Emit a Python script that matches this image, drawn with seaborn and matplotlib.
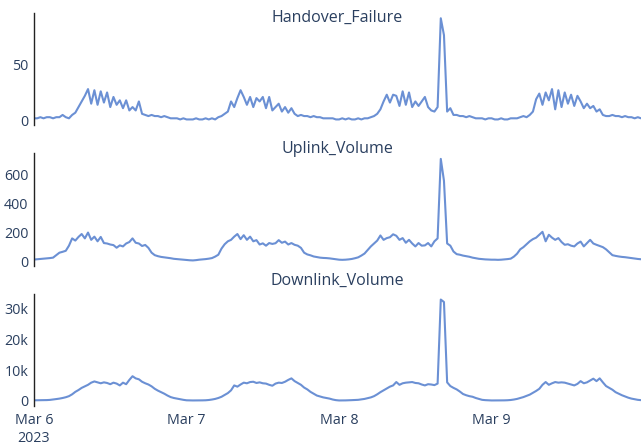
import matplotlib
matplotlib.use("Agg")
import matplotlib.pyplot as plt
import matplotlib.dates as mdates
from matplotlib.ticker import MultipleLocator, FuncFormatter
import seaborn as sns
import pandas as pd

# ---- data (30-minute samples, Mar 6 00:00 .. Mar 9 23:30) ----
start_time = "2023-03-06 00:00"
freq = "30min"

handover_failure = [
    # Mar 6
    2, 2, 3, 2, 3, 3, 2, 3, 3, 5, 3, 2, 5, 7, 12, 17, 22, 28, 15, 27, 14, 26, 16, 25,
    12, 21, 14, 18, 11, 18, 9, 12, 9, 17, 6, 5, 4, 5, 4, 4, 3, 4, 3, 2, 2, 2, 1, 2,
    # Mar 7
    1, 1, 1, 2, 1, 1, 2, 1, 2, 1, 3, 4, 6, 8, 17, 12, 20, 27, 21, 14, 21, 12, 20, 17,
    21, 11, 21, 9, 12, 15, 8, 12, 7, 11, 6, 4, 5, 4, 4, 3, 4, 3, 3, 2, 2, 2, 2, 1,
    # Mar 8
    1, 2, 1, 2, 1, 1, 2, 1, 2, 2, 3, 4, 6, 10, 17, 23, 16, 23, 22, 13, 26, 14, 25, 12,
    17, 13, 17, 21, 12, 9, 8, 12, 91, 76, 8, 11, 5, 5, 4, 4, 3, 4, 3, 2, 2, 2, 1, 2,
    # Mar 9
    2, 1, 1, 2, 1, 1, 2, 2, 2, 3, 4, 3, 5, 8, 19, 24, 14, 25, 18, 28, 10, 27, 12, 25,
    15, 23, 13, 22, 17, 11, 15, 11, 13, 8, 10, 5, 4, 4, 5, 4, 4, 3, 4, 3, 3, 2, 3, 2,
]

uplink_volume = [
    # Mar 6
    15, 17, 19, 21, 23, 25, 28, 45, 62, 68, 75, 110, 160, 145, 170, 190, 160, 200, 150, 172, 140, 170, 128, 125,
    118, 114, 96, 112, 105, 125, 135, 160, 130, 125, 108, 115, 95, 62, 45, 38, 33, 30, 27, 24, 20, 18, 16, 14,
    # Mar 7
    12, 10, 9, 11, 14, 16, 18, 21, 25, 35, 48, 90, 120, 140, 150, 172, 190, 155, 182, 150, 172, 140, 148, 118,
    126, 110, 128, 122, 127, 148, 130, 138, 118, 128, 116, 110, 95, 62, 50, 44, 36, 32, 28, 26, 25, 23, 20, 17,
    # Mar 8
    14, 13, 14, 16, 19, 24, 30, 42, 56, 80, 105, 125, 145, 180, 150, 162, 168, 188, 178, 150, 162, 130, 150, 125,
    105, 128, 110, 112, 128, 105, 140, 160, 705, 555, 125, 110, 70, 52, 48, 42, 38, 34, 28, 24, 20, 18, 16, 15,
    # Mar 9
    14, 14, 13, 14, 16, 18, 21, 35, 55, 85, 100, 120, 140, 155, 165, 185, 205, 140, 185, 165, 150, 162, 135, 116,
    120, 110, 105, 125, 138, 105, 128, 150, 125, 116, 108, 100, 85, 65, 45, 40, 36, 33, 31, 28, 25, 22, 19, 17,
]

downlink_volume = [
    # Mar 6
    150, 160, 170, 190, 220, 280, 400, 550, 700, 900, 1150, 1500, 2100, 2900, 3500, 4200, 4700, 5200, 5900, 6300, 6000, 5700, 6000, 5800,
    5400, 5900, 5600, 5000, 5900, 5400, 6800, 8000, 7300, 7000, 6200, 5700, 5300, 4700, 3900, 3300, 2800, 2300, 1700, 1200, 900, 700, 500, 300,
    # Mar 7
    150, 120, 100, 100, 110, 130, 160, 250, 400, 600, 900, 1300, 1900, 2500, 3400, 5000, 4600, 5300, 5900, 5700, 6100, 6200, 5800, 6000,
    5700, 5600, 5200, 4900, 5600, 5900, 5800, 6200, 6800, 7300, 6400, 5800, 5200, 4300, 3700, 2900, 2300, 1700, 1400, 1100, 900, 700, 400, 200,
    # Mar 8
    100, 100, 120, 150, 200, 250, 300, 450, 600, 850, 1100, 1500, 2100, 2800, 3400, 4000, 4600, 5000, 6100, 5200, 5700, 5900, 6000, 6100,
    5800, 5700, 5300, 5000, 5400, 5300, 5100, 5600, 33000, 32200, 6000, 4800, 4200, 3700, 3000, 2200, 1800, 1500, 1300, 900, 600, 300, 200, 150,
    # Mar 9
    100, 100, 100, 110, 130, 170, 250, 400, 600, 900, 1200, 1600, 2000, 2600, 3200, 3900, 5200, 6100, 5200, 5700, 6100, 5900, 6000, 5900,
    5600, 5300, 5000, 5500, 6400, 5700, 6000, 6600, 7200, 6400, 7300, 6000, 4800, 4200, 3600, 2800, 2300, 1800, 1400, 1000, 700, 500, 300, 200,
]

series_names = ["Handover_Failure", "Uplink_Volume", "Downlink_Volume"]
x_tick_labels = ["Mar 6\n2023", "Mar 7", "Mar 8", "Mar 9"]

# ---- figure ----
sns.set_theme(style="white")
plt.rcParams["font.family"] = ["Open Sans", "DejaVu Sans"]

LINE = "#6b90d4"
TXT = "#2a3f5f"

W, H = 642, 443
fig = plt.figure(figsize=(W / 100, H / 100), dpi=100)

times = pd.date_range(start_time, periods=len(handover_failure), freq=freq)
df = pd.DataFrame({
    "time": times,
    "Handover_Failure": handover_failure,
    "Uplink_Volume": uplink_volume,
    "Downlink_Volume": downlink_volume,
})

# axes in pixel terms: (top, bottom)
panels = [(12.7, 125.0), (153.3, 266.0), (294.0, 406.0)]
left_px, right_px = 34.0, 641.0
title_y = [18, 149, 281]
tick_steps = [50, 200, 10000]

def kfmt(v, pos):
    if v == 0:
        return "0"
    return f"{v/1000:g}k"

axes = []
for i, (name, (top, bot)) in enumerate(zip(series_names, panels)):
    ax = fig.add_axes([left_px / W, 1 - bot / H, (right_px - left_px) / W, (bot - top) / H])
    sns.lineplot(data=df, x="time", y=name, ax=ax, color=LINE, linewidth=1.5)
    vals = df[name]
    span = vals.max() - vals.min()
    ax.set_ylim(vals.min() - 0.055 * span, vals.max() + 0.055 * span)
    ax.set_xlim(df["time"].min(), df["time"].max())
    ax.yaxis.set_major_locator(MultipleLocator(tick_steps[i]))
    if name == "Downlink_Volume":
        ax.yaxis.set_major_formatter(FuncFormatter(kfmt))
    ax.set_xlabel("")
    ax.set_ylabel("")
    ax.grid(False)
    for s in ["top", "right", "bottom"]:
        ax.spines[s].set_visible(False)
    ax.spines["left"].set_color("#222222")
    ax.spines["left"].set_linewidth(1.0)
    ax.tick_params(axis="y", length=0, pad=4, labelsize=10.3, labelcolor=TXT)
    ax.xaxis.set_major_locator(mdates.DayLocator())
    if i < 2:
        ax.tick_params(axis="x", length=0, labelbottom=False)
    else:
        ticks = ax.get_xticks()
        ax.set_xticks(ticks[:len(x_tick_labels)])
        ax.set_xticklabels(x_tick_labels)
        ax.tick_params(axis="x", length=0, pad=5, labelsize=10.3, labelcolor=TXT)
        for lbl in ax.get_xticklabels():
            lbl.set_linespacing(1.25)
    fig.text(((left_px + right_px) / 2) / W, 1 - title_y[i] / H, name,
             ha="center", va="center", fontsize=11.5, color=TXT)
    axes.append(ax)

fig.savefig("out.png", dpi=100)
